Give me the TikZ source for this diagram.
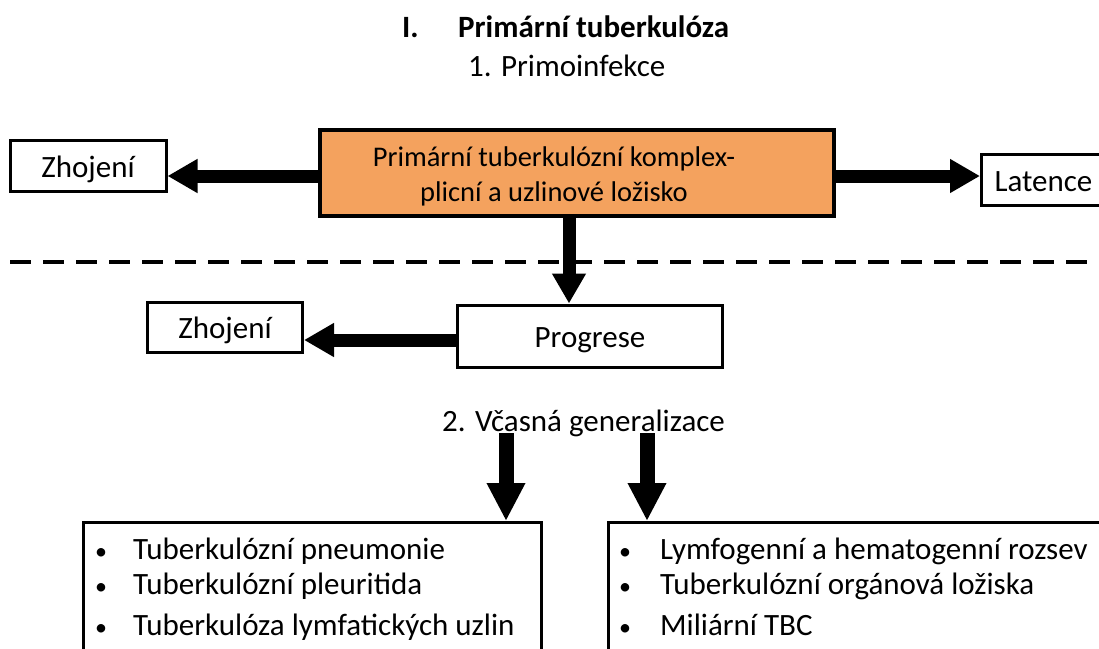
\documentclass[tikz,border=0pt]{standalone}
\usepackage{fontspec}
\setmainfont{Carlito}
\usetikzlibrary{arrows.meta}
\definecolor{boxorange}{RGB}{244,162,94}
\tikzset{
  box/.style={draw=black, line width=3pt, fill=white, inner sep=0pt},
  boxlbl/.style={text height=22pt, text depth=0pt},
  bigarrow/.style={line width=13pt, -{Triangle[length=30pt,width=32pt]}},
  downarrow/.style={line width=15pt, -{Triangle[length=38pt,width=36pt]}},
  lbl/.style={inner sep=0pt, font=\fontsize{31}{36}\selectfont},
}
\begin{document}
\begin{tikzpicture}[x=1pt,y=-1pt]
\clip (0,0) rectangle (1099,648);
\useasboundingbox (0,0) rectangle (1099,648);
\fill[white] (0,0) rectangle (1099,648);
% titles
\node[lbl, font=\fontsize{31}{36}\selectfont\bfseries, anchor=base west] (t1) at (402,37) {I.};
\node[lbl, font=\fontsize{31}{36}\selectfont\bfseries, anchor=base west] (t2) at (458,37) {Primární tuberkulóza};
\node[lbl, anchor=base west] (t3) at (468,76) {1. Primoinfekce};
% main box
\node[box, fill=boxorange, line width=4pt, minimum width=514pt, minimum height=86pt] (main) at (577,173) {};
\node[lbl, font=\fontsize{28.5}{35}\selectfont, align=center, anchor=center] (maintext) at (554,176)
  {Primární tuberkulózní komplex-\\plicní a uzlinové ložisko};
\node[box, lbl, boxlbl, minimum width=156pt, minimum height=51pt] (z1) at (88,166) {Zhojení};
\node[box, lbl, boxlbl, minimum height=51pt, anchor=west, inner xsep=13pt] (lat) at (980,180) {Latence\hspace*{40pt}};
\draw[bigarrow] (main.west |- 0,176) -- (z1.east |- 0,176);
\draw[bigarrow] (main.east |- 0,176) -- (lat.west |- 0,176);
% dashed line
\coordinate (d1) at (10,262);
\coordinate (d2) at (1099,262);
\draw[line width=4pt, dash pattern=on 21pt off 12pt] (d1) -- (d2);
% progrese
\node[box, lbl, boxlbl, minimum width=265pt, minimum height=62pt] (prog) at (590,336) {Progrese};
\node[box, lbl, boxlbl, minimum width=155pt, minimum height=50pt] (z2) at (225,327) {Zhojení};
\draw[bigarrow] (main.south -| 569,0) -- (prog.north -| 569,0);
\draw[bigarrow] (prog.west |- 0,340) -- (z2.east |- 0,340);
% generalization
\node[lbl, anchor=base west] (gen) at (442,431) {2. Včasná generalizace};
\node[box, minimum width=458pt, minimum height=160pt, anchor=north west] (bl) at (82,521) {};
\node[box, minimum width=520pt, minimum height=160pt, anchor=north west] (br) at (607,521) {};
\draw[downarrow] (506,433) -- (bl.north -| 506,0);
\draw[downarrow] (647,433) -- (br.north -| 647,0);
% bullets
\foreach \y/\t [count=\i] in {559/Tuberkulózní pneumonie, 594/Tuberkulózní pleuritida, 635/Tuberkulóza lymfatických uzlin}{
  \node[lbl, font=\fontsize{24}{28}\selectfont, anchor=base] (bb\i) at (101,\y) {•};
  \node[lbl, anchor=base west] (bt\i) at (133,\y) {\t};
}
\foreach \y/\t [count=\i] in {559/Lymfogenní a hematogenní rozsev, 594/Tuberkulózní orgánová ložiska, 635/Miliární TBC}{
  \node[lbl, font=\fontsize{24}{28}\selectfont, anchor=base] (cb\i) at (625,\y) {•};
  \node[lbl, anchor=base west] (ct\i) at (660,\y) {\t};
}
\end{tikzpicture}
\end{document}
